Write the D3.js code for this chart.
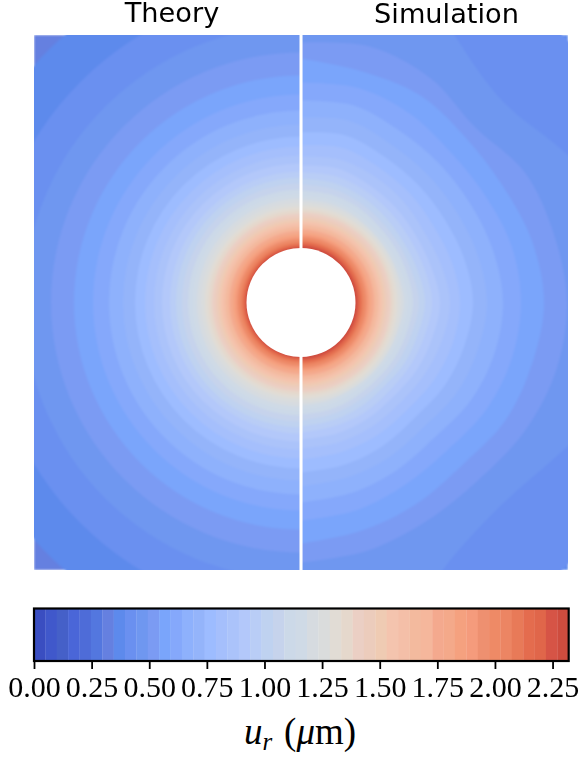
<!DOCTYPE html>
<html>
<head>
<meta charset="utf-8">
<script src="https://cdn.jsdelivr.net/npm/d3@7"></script>
<style>
  html, body { margin: 0; padding: 0; background: #fff; }
  svg { display: block; }
  .title { font-family: "DejaVu Sans"; font-size: 27.2px; fill: #000; text-anchor: middle; }
  .cbar text { font-family: "Liberation Serif"; font-size: 30px; fill: #000; }
  .cbar-label { font-family: "Liberation Serif"; font-size: 37px; fill: #000; text-anchor: middle; }
</style>
</head>
<body>
<script>
// colour of each of the 47 colorbar bands, low to high
var bandColors = [
  "#3a4ec1", "#4058cb", "#4560c8", "#4a66d8", "#4e6cd8", "#5377df", "#6580e0", "#5d8aec",
  "#6a90f0", "#6f97f0", "#7b9bf3", "#7aa5fb", "#85a8fb", "#8eb1fc", "#94b4fa", "#9dbcff",
  "#a5bffc", "#abc3fa", "#b3c8fa", "#b9cdf6", "#bfd2f0", "#c6d3ec", "#ccd9e8", "#cfdae6",
  "#d6dbe0", "#dadcdc", "#e1dcd5", "#e5d8cc", "#ebcfc4", "#ecccbc", "#efcbb3", "#f4c4ae",
  "#f4bfa8", "#f3ba9e", "#f5b79c", "#f4a98e", "#f4a98a", "#f5a17f", "#f59b7c", "#ee9070",
  "#ee8a66", "#ec8563", "#e87a58", "#e46c4e", "#e0664a", "#d65446", "#ce4c3e"
];

var tickValues = [0, 0.25, 0.5, 0.75, 1, 1.25, 1.5, 1.75, 2, 2.25];
var uMax = 2.32;

var holeRadius = 54.5;
var halfWidth = 267;

// Theory: outer radius of bands 7..46
var theoryFirstBand = 7;
var theoryRadii = [
  357, 312, 277, 250, 227, 208, 192, 178, 166, 156, 147, 139, 131, 125, 119, 113, 108.5, 104,
  100, 96, 92.5, 89, 86, 83, 80.5, 78, 75.5, 73.5, 71.5, 69.5, 67.5, 65.5, 64, 62.5, 61, 59.5,
  58, 56.7, 55.5, 54.8
];

// Simulation: outer radius of bands 8..24 at each angle (noisy mesh contours)
var simAngles = [90, 75, 60, 45, 30, 15, 0, -15, -30, -45, -60, -75, -90];
var simFirstBand = 8;
var simRadii = [
  [430, 430, 430, 374, 430, 430, 430, 430, 430, 374, 430, 430, 430],
  [400, 380, 308, 285, 303, 340, 340, 340, 300, 285, 298, 350, 400],
  [260, 265, 259, 247, 259, 262, 266, 264, 258, 251, 252, 257, 260],
  [244, 239, 239, 233, 233, 239, 243, 239, 236, 229, 232, 236, 241],
  [220, 222, 218, 212, 213, 218, 220, 218, 214, 208, 210, 215, 218],
  [202, 204, 198, 196, 196, 199, 202, 200, 196, 190, 193, 197, 200],
  [185, 188, 182, 180, 180, 183, 186, 183, 180, 175, 178, 181, 184],
  [170, 173, 168, 166, 166, 169, 172, 169, 166, 162, 165, 168, 170],
  [157, 160, 156, 154, 153, 156, 159, 157, 154, 151, 153, 155, 157],
  [146, 148, 146, 144, 142, 145, 149, 146, 143, 141, 143, 145, 146],
  [137, 139, 136, 134, 133, 135, 139, 136, 134, 132, 134, 136, 137],
  [130, 131, 129, 127, 126, 128, 131, 128, 126, 125, 127, 128, 130],
  [124, 124, 122, 120, 119, 121, 124, 121, 120, 118, 120, 122, 124],
  [118, 118, 116, 114, 114, 115, 118, 115, 114, 113, 114, 116, 118],
  [112, 112, 111, 109, 109, 110, 112, 110, 109, 108, 109, 111, 112],
  [107, 107, 106, 104, 104, 105, 107, 105, 104, 103, 104, 106, 107],
  [103, 103, 102, 100, 100, 101, 103, 101, 100, 99, 100, 102, 103]
];

// Simulation near the hole: bands 25..46, round enough for one radius each
var simInnerFirstBand = 25;
var simInnerRadii = [
  100, 96.5, 93, 90, 87, 84, 81.5, 79, 77, 75, 73, 71, 69, 67.5, 66, 64.5, 63, 61.5, 60, 58.5, 57, 56
];

var w = 581, h = 763;
var panel = { left: 34, right: 568, top: 35, bottom: 570 };
var cx = 301, cy = 302.5;

var svg = d3.select("body").append("svg")
  .attr("width", w)
  .attr("height", h);

var rScale = d3.scaleLinear().domain([0, halfWidth]).range([0, (panel.right - panel.left) / 2]);

var defs = svg.append("defs");
defs.append("clipPath").attr("id", "clip-left").append("rect")
  .attr("x", panel.left).attr("y", panel.top)
  .attr("width", cx - panel.left).attr("height", panel.bottom - panel.top);
defs.append("clipPath").attr("id", "clip-right").append("rect")
  .attr("x", cx).attr("y", panel.top)
  .attr("width", panel.right - cx).attr("height", panel.bottom - panel.top);

// soft edges, the panels are an upscaled raster in the original
defs.append("filter").attr("id", "soft")
  .attr("color-interpolation-filters", "sRGB")
  .append("feGaussianBlur").attr("stdDeviation", 0.8);

// Left half, theory
var left = svg.append("g").attr("clip-path", "url(#clip-left)").attr("filter", "url(#soft)");
left.append("rect")
  .attr("x", panel.left).attr("y", panel.top)
  .attr("width", cx - panel.left).attr("height", panel.bottom - panel.top)
  .attr("fill", bandColors[theoryFirstBand - 1]);
left.selectAll("circle")
  .data(theoryRadii)
  .join("circle")
  .attr("cx", cx)
  .attr("cy", cy)
  .attr("r", function(d) { return rScale(d); })
  .attr("fill", function(d, i) { return bandColors[theoryFirstBand + i]; });

// Right half, simulation
var right = svg.append("g").attr("clip-path", "url(#clip-right)").attr("filter", "url(#soft)");
right.append("rect")
  .attr("x", cx).attr("y", panel.top)
  .attr("width", panel.right - cx).attr("height", panel.bottom - panel.top)
  .attr("fill", bandColors[simFirstBand - 1]);

var radial = d3.lineRadial()
  .curve(d3.curveCatmullRom)
  .angle(function(d, i) { return (90 - simAngles[i]) * Math.PI / 180; })
  .radius(function(d) { return rScale(d); });

right.append("g")
  .attr("transform", "translate(" + cx + "," + cy + ")")
  .selectAll("path")
  .data(simRadii)
  .join("path")
  .attr("d", function(d) { return radial(d) + "Z"; })
  .attr("fill", function(d, i) { return bandColors[simFirstBand + i]; });

right.selectAll("circle")
  .data(simInnerRadii)
  .join("circle")
  .attr("cx", cx)
  .attr("cy", cy)
  .attr("r", function(d) { return rScale(d); })
  .attr("fill", function(d, i) { return bandColors[simInnerFirstBand + i]; });

// Hole and divider
svg.append("circle")
  .attr("cx", cx).attr("cy", cy)
  .attr("r", rScale(holeRadius))
  .attr("fill", "#fff");
svg.append("line")
  .attr("x1", cx).attr("x2", cx)
  .attr("y1", panel.top).attr("y2", panel.bottom)
  .attr("stroke", "#fff")
  .attr("stroke-width", 3);

// Titles
svg.append("text").attr("class", "title").attr("x", 172).attr("y", 21.5).text("Theory");
svg.append("text").attr("class", "title").attr("x", 446.5).attr("y", 22.5).text("Simulation");

// Colorbar
var barTop = 608.5, barBottom = 661;
var barBand = d3.scaleBand()
  .domain(d3.range(bandColors.length))
  .range([panel.left, 568.7]);
var barScale = d3.scaleLinear().domain([0, uMax]).range([panel.left, 568.7]);

var cbar = svg.append("g").attr("class", "cbar");
cbar.selectAll("rect.band")
  .data(bandColors)
  .join("rect")
  .attr("class", "band")
  .attr("x", function(d, i) { return barBand(i); })
  .attr("y", barTop)
  .attr("width", barBand.bandwidth() + 0.3)
  .attr("height", barBottom - barTop)
  .attr("fill", function(d) { return d; });
cbar.append("rect")
  .attr("x", panel.left).attr("y", barTop)
  .attr("width", 568.7 - panel.left).attr("height", barBottom - barTop)
  .attr("fill", "none")
  .attr("stroke", "#000")
  .attr("stroke-width", 2.2);

var axis = cbar.append("g")
  .attr("transform", "translate(0," + barBottom + ")")
  .call(d3.axisBottom(barScale)
    .tickValues(tickValues)
    .tickSize(8)
    .tickPadding(7)
    .tickFormat(d3.format(".2f")));
axis.select(".domain").remove();
axis.selectAll("line").attr("stroke", "#000").attr("stroke-width", 1.8);
axis.selectAll("text").attr("fill", "#000").attr("font-size", null).attr("font-family", null);

var label = svg.append("text").attr("class", "cbar-label").attr("x", 300).attr("y", 744);
label.append("tspan").attr("font-style", "italic").text("u");
label.append("tspan").attr("font-style", "italic").attr("font-size", 25).attr("dy", 6).text("r");
label.append("tspan").attr("dy", -6).attr("dx", 12).text("(");
label.append("tspan").attr("font-style", "italic").text("μ");
label.append("tspan").text("m)");
</script>
</body>
</html>
